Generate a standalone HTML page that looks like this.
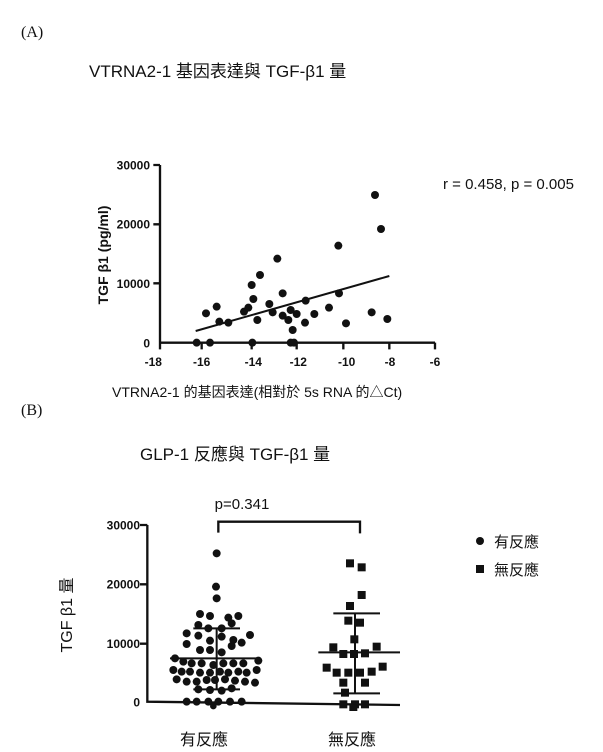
<!DOCTYPE html>
<html><head><meta charset="utf-8"><style>
html,body{margin:0;padding:0;background:#fff;}
svg{display:block;}
text{font-family:"Liberation Sans","Noto Sans CJK TC",sans-serif;fill:#111;}
.s{font-family:"Liberation Serif","Noto Serif CJK SC",serif;}
</style></head><body>
<svg width="603" height="752" viewBox="0 0 603 752" xmlns="http://www.w3.org/2000/svg">
<text x="21" y="37" class="s" font-size="16">(A)</text>
<text x="89" y="77" font-size="17">VTRNA2-1 基因表達與 TGF-β1 量</text>
<text x="443" y="189" font-size="15">r = 0.458, p = 0.005</text>
<text transform="translate(108,255) rotate(-90)" text-anchor="middle" font-size="14" font-weight="bold">TGF β1 (pg/ml)</text>
<text x="112" y="397" font-size="14">VTRNA2-1 的基因表達(相對於 5s RNA 的△Ct)</text>
<g transform="translate(100,150) scale(0.33333)" stroke="#111" fill="#111">
<g font-size="36" font-weight="bold" stroke="none">
<text x="150" y="58" text-anchor="end">30000</text>
<text x="150" y="236" text-anchor="end">20000</text>
<text x="150" y="414" text-anchor="end">10000</text>
<text x="150" y="592" text-anchor="end">0</text>
<text x="160" y="648" text-anchor="middle">-18</text>
<text x="305" y="648" text-anchor="middle">-16</text>
<text x="460" y="648" text-anchor="middle">-14</text>
<text x="595" y="648" text-anchor="middle">-12</text>
<text x="740" y="648" text-anchor="middle">-10</text>
<text x="870" y="648" text-anchor="middle">-8</text>
<text x="1005" y="648" text-anchor="middle">-6</text>
</g>
<path d="M180 45 V578 H1005 M160 45H180 M160 223H180 M160 400H180 M180 578V598 M305 578V598 M455 578V598 M590 578V598 M730 578V598 M868 578V598 M1005 578V598" stroke-width="7" fill="none"/>
<path d="M287 543 L868 378" stroke-width="6"/>
<g stroke="none">
<circle cx="318" cy="490" r="12"/><circle cx="350" cy="470" r="12"/><circle cx="358" cy="515" r="12"/><circle cx="385" cy="518" r="12"/><circle cx="432" cy="485" r="12"/><circle cx="445" cy="473" r="12"/><circle cx="455" cy="405" r="12"/><circle cx="460" cy="447" r="12"/><circle cx="472" cy="510" r="12"/><circle cx="480" cy="375" r="12"/><circle cx="508" cy="462" r="12"/><circle cx="518" cy="487" r="12"/><circle cx="532" cy="326" r="12"/><circle cx="548" cy="430" r="12"/><circle cx="548" cy="497" r="12"/><circle cx="565" cy="510" r="12"/><circle cx="572" cy="480" r="12"/><circle cx="578" cy="540" r="12"/><circle cx="590" cy="492" r="12"/><circle cx="615" cy="518" r="12"/><circle cx="617" cy="452" r="12"/><circle cx="643" cy="492" r="12"/><circle cx="687" cy="473" r="12"/><circle cx="715" cy="287" r="12"/><circle cx="717" cy="430" r="12"/><circle cx="738" cy="520" r="12"/><circle cx="815" cy="487" r="12"/><circle cx="825" cy="135" r="12"/><circle cx="843" cy="237" r="12"/><circle cx="862" cy="507" r="12"/><circle cx="290" cy="578" r="12"/><circle cx="330" cy="578" r="12"/><circle cx="457" cy="578" r="12"/><circle cx="572" cy="578" r="12"/><circle cx="582" cy="578" r="12"/>
</g></g>

<text x="21" y="415" class="s" font-size="16">(B)</text>
<text x="140" y="460" font-size="17">GLP-1 反應與 TGF-β1 量</text>
<text x="242" y="509" text-anchor="middle" font-size="15">p=0.341</text>
<circle cx="480" cy="541" r="4" fill="#111"/>
<text x="494" y="547" font-size="15">有反應</text>
<rect x="476" y="565" width="8" height="8" fill="#111"/>
<text x="494" y="575" font-size="15">無反應</text>
<text transform="translate(72,615) rotate(-90)" text-anchor="middle" font-size="16">TGF β1 量</text>
<text x="180" y="745" font-size="16">有反應</text>
<text x="328" y="745" font-size="16">無反應</text>
<g transform="translate(60,490) scale(0.33333)" stroke="#111" fill="#111">
<g font-size="36" font-weight="bold" stroke="none">
<text x="240" y="118" text-anchor="end">30000</text>
<text x="240" y="296" text-anchor="end">20000</text>
<text x="240" y="474" text-anchor="end">10000</text>
<text x="240" y="650" text-anchor="end">0</text>
</g>
<path d="M262 105 V635 L1020 645 M240 105H262 M240 283H262 M240 461H262" stroke-width="7" fill="none"/>
<path d="M475 128 V95 H900 V130" stroke-width="7" fill="none"/>
<path d="M330 505H600 M400 415H540 M400 598H540 M470 415V598" stroke-width="6" fill="none"/>
<path d="M775 487H1020 M820 370H960 M820 610H960 M885 370V610" stroke-width="6" fill="none"/>
<g stroke="none">
<circle cx="470" cy="190" r="12"/><circle cx="468" cy="290" r="12"/><circle cx="470" cy="325" r="12"/><circle cx="420" cy="372" r="12"/><circle cx="450" cy="378" r="12"/><circle cx="505" cy="383" r="12"/><circle cx="535" cy="378" r="12"/><circle cx="515" cy="400" r="12"/><circle cx="415" cy="405" r="12"/><circle cx="445" cy="415" r="12"/><circle cx="485" cy="415" r="12"/><circle cx="380" cy="430" r="12"/><circle cx="415" cy="437" r="12"/><circle cx="570" cy="435" r="12"/><circle cx="485" cy="440" r="12"/><circle cx="380" cy="462" r="12"/><circle cx="450" cy="452" r="12"/><circle cx="520" cy="450" r="12"/><circle cx="545" cy="458" r="12"/><circle cx="515" cy="468" r="12"/><circle cx="420" cy="480" r="12"/><circle cx="450" cy="480" r="12"/><circle cx="485" cy="487" r="12"/><circle cx="345" cy="505" r="12"/><circle cx="370" cy="515" r="12"/><circle cx="395" cy="520" r="12"/><circle cx="425" cy="520" r="12"/><circle cx="460" cy="525" r="12"/><circle cx="490" cy="520" r="12"/><circle cx="520" cy="520" r="12"/><circle cx="550" cy="520" r="12"/><circle cx="595" cy="512" r="12"/><circle cx="340" cy="540" r="12"/><circle cx="365" cy="545" r="12"/><circle cx="390" cy="545" r="12"/><circle cx="420" cy="548" r="12"/><circle cx="450" cy="548" r="12"/><circle cx="480" cy="545" r="12"/><circle cx="505" cy="548" r="12"/><circle cx="535" cy="545" r="12"/><circle cx="560" cy="548" r="12"/><circle cx="590" cy="540" r="12"/><circle cx="350" cy="568" r="12"/><circle cx="380" cy="575" r="12"/><circle cx="410" cy="575" r="12"/><circle cx="440" cy="570" r="12"/><circle cx="465" cy="570" r="12"/><circle cx="495" cy="568" r="12"/><circle cx="525" cy="572" r="12"/><circle cx="555" cy="575" r="12"/><circle cx="585" cy="578" r="12"/><circle cx="415" cy="598" r="12"/><circle cx="450" cy="600" r="12"/><circle cx="485" cy="602" r="12"/><circle cx="515" cy="595" r="12"/><circle cx="380" cy="635" r="12"/><circle cx="410" cy="635" r="12"/><circle cx="445" cy="635" r="12"/><circle cx="475" cy="635" r="12"/><circle cx="510" cy="635" r="12"/><circle cx="545" cy="635" r="12"/><circle cx="460" cy="648" r="10"/>
</g>
<g stroke="none">
<rect x="858" y="208" width="24" height="24"/><rect x="893" y="220" width="24" height="24"/><rect x="893" y="303" width="24" height="24"/><rect x="858" y="336" width="24" height="24"/><rect x="853" y="380" width="24" height="24"/><rect x="888" y="386" width="24" height="24"/><rect x="871" y="436" width="24" height="24"/><rect x="808" y="460" width="24" height="24"/><rect x="938" y="458" width="24" height="24"/><rect x="838" y="480" width="24" height="24"/><rect x="870" y="480" width="24" height="24"/><rect x="903" y="478" width="24" height="24"/><rect x="788" y="521" width="24" height="24"/><rect x="818" y="536" width="24" height="24"/><rect x="853" y="536" width="24" height="24"/><rect x="888" y="536" width="24" height="24"/><rect x="923" y="533" width="24" height="24"/><rect x="956" y="518" width="24" height="24"/><rect x="838" y="566" width="24" height="24"/><rect x="903" y="566" width="24" height="24"/><rect x="843" y="596" width="24" height="24"/><rect x="838" y="631" width="24" height="24"/><rect x="873" y="631" width="24" height="24"/><rect x="903" y="631" width="24" height="24"/><rect x="868" y="643" width="24" height="20"/>
</g></g>
</svg>
</body></html>
